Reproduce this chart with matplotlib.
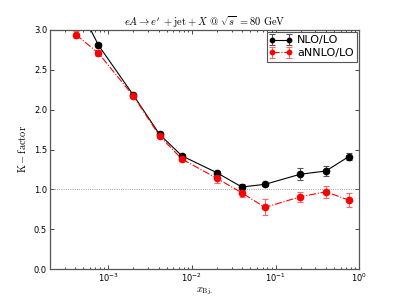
import numpy as np
import matplotlib
matplotlib.use("Agg")
import matplotlib.pyplot as plt
from matplotlib.container import ErrorbarContainer
from matplotlib.legend_handler import HandlerErrorbar

x_bj = [4.1e-4, 7.6e-4, 2.0e-3, 4.1e-3, 7.6e-3, 0.0198, 0.0395, 0.0747, 0.198, 0.40, 0.75]
k_nlo = [3.37, 2.81, 2.18, 1.69, 1.42, 1.21, 1.03, 1.063, 1.19, 1.23, 1.41]
err_nlo = [0.03, 0.03, 0.02, 0.03, 0.02, 0.02, 0.04, 0.02, 0.077, 0.06, 0.04]
k_annlo = [2.94, 2.71, 2.17, 1.67, 1.38, 1.14, 0.957, 0.774, 0.907, 0.97, 0.866]
err_annlo = [0.04, 0.035, 0.02, 0.03, 0.03, 0.055, 0.05, 0.10, 0.065, 0.077, 0.085]

plt.rcParams['mathtext.fontset'] = 'cm'
plt.rcParams['xtick.direction'] = 'in'
plt.rcParams['ytick.direction'] = 'in'
plt.rcParams['xtick.top'] = True
plt.rcParams['ytick.right'] = True
plt.rcParams['font.size'] = 6
plt.rcParams['legend.numpoints'] = 2

fig = plt.figure(figsize=(3.99, 2.99), dpi=100)
ax = fig.add_axes([0.125, 0.1, 0.775, 0.8])

ax.axhline(1.0, color='gray', ls=':', lw=0.6)

ax.errorbar(x_bj, k_nlo, yerr=err_nlo, fmt='o-', color='black', ms=4.5, lw=0.8,
            ecolor='#555555', elinewidth=0.8, capsize=2, capthick=0.8, label='NLO/LO')
ax.errorbar(x_bj, k_annlo, yerr=err_annlo, fmt='o-.', color='red', ms=4.5, lw=0.8,
            ecolor='#ff6666', elinewidth=0.8, capsize=2, capthick=0.8, label='aNNLO/LO')

ax.set_xscale('log')
ax.set_xlim(2e-4, 1.0)
ax.set_ylim(0.0, 3.0)
ax.set_yticks([0.0, 0.5, 1.0, 1.5, 2.0, 2.5, 3.0])
ax.tick_params(which='major', length=3, width=0.5, labelsize=6, pad=2)
ax.tick_params(which='minor', length=1.5, width=0.5)
for s in ax.spines.values():
    s.set_linewidth(0.9)
    s.set_color('#555555')

ax.set_title(r'$eA \rightarrow e^{\prime}\ + \mathrm{jet} + X\ @\ \sqrt{s}\ = 80\ \mathrm{GeV}$',
             fontsize=7.5, pad=3)
ax.set_xlabel(r'$x_{\mathrm{Bj.}}$', fontsize=7.5, labelpad=1)
ax.set_ylabel(r'$\mathrm{K-factor}$', fontsize=7.5, labelpad=4)

leg = ax.legend(loc='upper right', fontsize=8, handlelength=1.9,
                handler_map={ErrorbarContainer: HandlerErrorbar(numpoints=2, marker_pad=0.2)},
                markerscale=0.7, borderpad=0.3, labelspacing=0.25, handletextpad=0.5,
                borderaxespad=0.2, fancybox=False, framealpha=1, edgecolor='#555555')
leg.get_frame().set_linewidth(0.8)

fig.savefig('out.png', dpi=100)
